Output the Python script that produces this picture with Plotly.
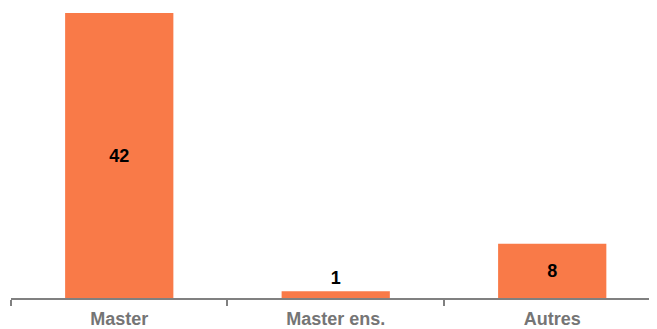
import plotly.graph_objects as go

categories = ["Master", "Master ens.", "Autres"]
values = [42, 1, 8]
text_positions = ["inside", "outside", "inside"]

fig = go.Figure(go.Bar(
    x=categories, y=values,
    text=[str(v) for v in values],
    textposition=text_positions,
    insidetextanchor="middle",
    textfont=dict(family="Liberation Sans, Arial, sans-serif", size=18, color="#000000", weight="bold"),
    marker=dict(color="#F97A48", line=dict(width=0)),
    width=0.5,
    cliponaxis=False,
))

fig.update_layout(
    width=649, height=321,
    margin=dict(l=3, r=0, t=5, b=31, autoexpand=False),
    plot_bgcolor="white", paper_bgcolor="white",
    showlegend=False,
    xaxis=dict(
        range=[-0.5, 2.484],
        showline=True, linecolor="#808080", linewidth=2,
        ticks="outside", tickson="boundaries", ticklen=6, tickcolor="#808080", tickwidth=2,
        ticklabelstandoff=3,
        tickfont=dict(family="Liberation Sans, Arial, sans-serif", size=18, color="#757575", weight="bold"),
        showgrid=False, automargin=False,
    ),
    yaxis=dict(range=[0, 42], visible=False, showgrid=False),
)

fig.write_html("out.html")
